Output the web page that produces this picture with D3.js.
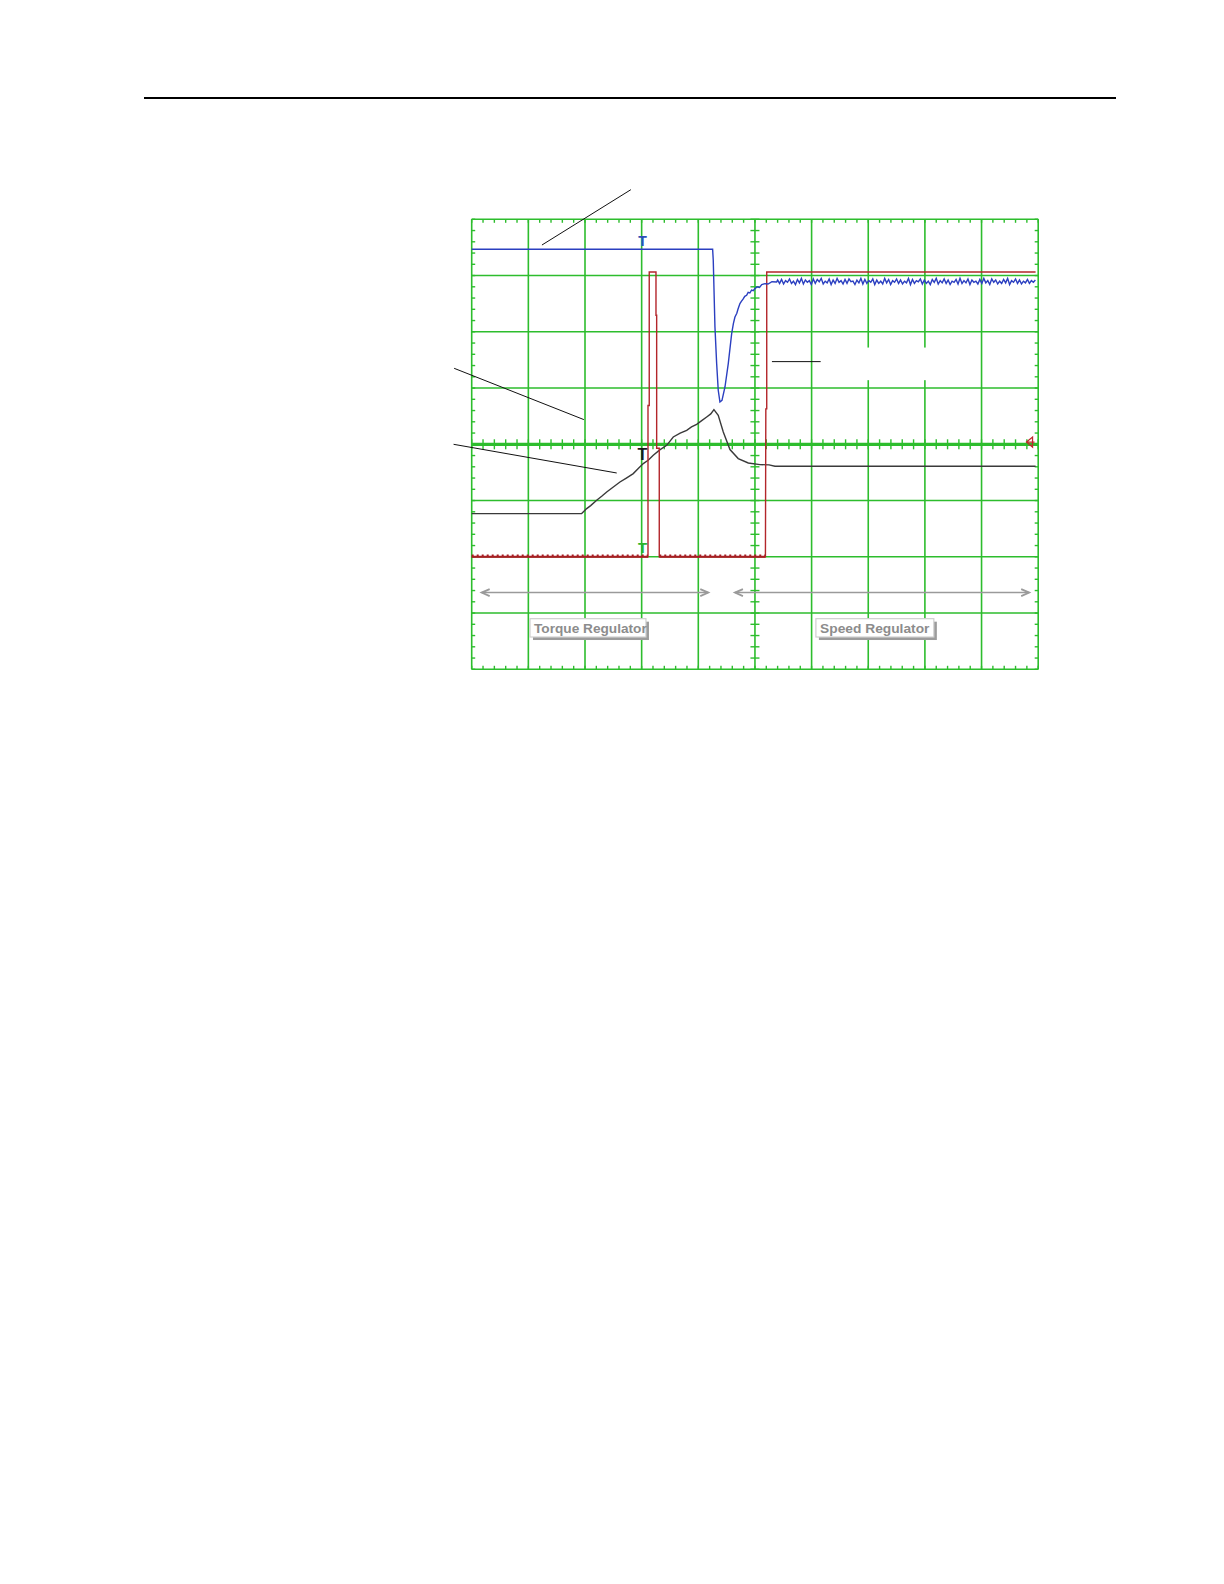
<!DOCTYPE html>
<html>
<head>
<meta charset="utf-8">
<script src="https://cdn.jsdelivr.net/npm/d3@7"></script>
<style>
  html, body { margin: 0; padding: 0; background: #fff; }
  svg { display: block; }
</style>
</head>
<body>
<script>
// ---------- DATA (oscilloscope divisions: time 0..10, amplitude -4..4) ----------
const xDivs = [0, 1, 2, 3, 4, 5, 6, 7, 8, 9, 10];
const yDivs = [-4, -3, -2, -1, 0, 1, 2, 3, 4];

// Blue trace: step level, sharp dip, recovery
const blueTrace = [
  [0.00, 3.467], [4.253, 3.467], [4.264, 3.271], [4.294, 2.085], [4.324, 1.435],
  [4.352, 0.960], [4.382, 0.752], [4.418, 0.782], [4.471, 1.019], [4.529, 1.435],
  [4.589, 1.968], [4.620, 2.150], [4.647, 2.263], [4.680, 2.330], [4.700, 2.400],
  [4.735, 2.501], [4.760, 2.540], [4.790, 2.580], [4.820, 2.630], [4.853, 2.649],
  [4.880, 2.700], [4.910, 2.690], [4.940, 2.740], [4.970, 2.730], [5.000, 2.768],
  [5.040, 2.800], [5.080, 2.790], [5.120, 2.840], [5.176, 2.857], [5.230, 2.850],
  [5.300, 2.890], [5.383, 2.885]
];
// Blue steady-state ripple samples from t=5.40 to t=9.95
const blueRippleStart = 5.40, blueRippleEnd = 9.95;
const blueRipple = [2.92,2.86,2.93,2.85,2.91,2.88,2.94,2.86,2.90,2.84,2.93,2.87,2.95,2.85,2.92,2.88,2.91,2.84,2.94,2.86,
  2.93,2.89,2.95,2.85,2.90,2.87,2.94,2.84,2.92,2.86,2.95,2.88,2.91,2.85,2.93,2.86,2.94,2.89,2.90,2.84,
  2.92,2.87,2.95,2.85,2.93,2.86,2.91,2.88,2.94,2.84,2.92,2.86,2.90,2.85,2.95,2.87,2.93,2.84,2.91,2.88,
  2.94,2.86,2.92,2.85,2.90,2.87,2.95,2.84,2.93,2.86,2.91,2.89,2.94,2.85,2.92,2.86,2.90,2.84,2.93,2.88,
  2.95,2.85,2.91,2.87,2.94,2.86,2.92,2.84,2.90,2.88,2.93,2.85,2.95,2.86,2.91,2.87,2.94,2.84,2.92,2.88,
  2.90,2.85,2.93,2.86,2.95,2.87,2.91,2.84,2.94,2.88,2.92,2.85,2.90,2.86,2.93,2.87,2.95,2.84,2.91,2.88,
  2.94,2.86,2.92,2.85,2.90,2.87,2.93,2.86,2.91,2.88,2.92];

// Red trace: low level, short pulse, then high level
const redTrace = [
  [0.000, -2.0], [3.112, -2.0], [3.112, 0.69], [3.134, 0.69], [3.134, 3.063],
  [3.253, 3.063], [3.253, 2.293], [3.265, 2.293], [3.265, -0.071], [3.311, -0.071],
  [3.311, -2.0], [5.185, -2.0], [5.192, 0.63], [5.208, 0.63], [5.208, 3.063], [9.954, 3.063]
];
const redLowLevel = -2.0;

// Black trace: level, ramp, peak, settle
const blackTrace = [
  [0.000, -1.232], [1.941, -1.232], [2.030, -1.143], [2.100, -1.090], [2.206, -0.996],
  [2.300, -0.920], [2.383, -0.848], [2.500, -0.760], [2.617, -0.670], [2.730, -0.600],
  [2.852, -0.521], [2.940, -0.430], [3.029, -0.343], [3.120, -0.280], [3.205, -0.196],
  [3.320, -0.100], [3.442, -0.018], [3.558, 0.130], [3.680, 0.200], [3.795, 0.249],
  [3.880, 0.310], [3.971, 0.356], [4.060, 0.420], [4.148, 0.486], [4.220, 0.540],
  [4.276, 0.617], [4.352, 0.516], [4.441, 0.219], [4.559, -0.094], [4.705, -0.254],
  [4.882, -0.332], [5.088, -0.361], [5.250, -0.365], [5.353, -0.391], [9.954, -0.391]
];

// Trigger markers
const markers = [
  { label: "T", t: 3.015, v: 3.53, size: 14, color: "#2f4fb5" },
  { label: "T", t: 3.015, v: -0.28, size: 16, color: "#1a1a1a" },
  { label: "T", t: 3.015, v: -1.93, size: 15, color: "#2db52d" }
];

// Region arrows and labels
const regionArrows = [ { from: 0.176, to: 4.176, v: -2.636 }, { from: 4.647, to: 9.841, v: -2.636 } ];
const regionLabels = [
  { text: "Torque Regulator", t0: 1.029, t1: 3.076, textT: 1.10, textEnd: 3.09 },
  { text: "Speed Regulator",  t0: 6.076, t1: 8.158, textT: 6.15, textEnd: 8.08 }
];
const labelBoxTop = -3.10, labelBoxBottom = -3.426, labelBaseline = -3.35;

// Leader lines (annotation pointers), in divisions
const leaders = [
  [[2.81, 4.527], [1.24, 3.543]],
  [[-0.31, 1.351], [1.98, 0.439]],
  [[-0.32, 0.0], [2.56, -0.510]],
  [[5.30, 1.470], [6.16, 1.470]]
];
// Erased area inside the grid (blank label spot)
const blankArea = { t0: 6.45, t1: 8.50, v0: 1.72, v1: 1.14 };

// ---------- LAYOUT ----------
const W = 1224, H = 1584;
const X0 = 471.7, X1 = 1038.2, Y0 = 219.3, Y1 = 669.3;
const x = d3.scaleLinear().domain([0, 10]).range([X0, X1]);
const y = d3.scaleLinear().domain([-4, 4]).range([Y1, Y0]);

const GREEN = "#2dbd2d";

const svg = d3.select("body").append("svg")
  .attr("width", W).attr("height", H)
  .style("font-family", "'Liberation Sans', Arial, sans-serif");
svg.append("rect").attr("width", W).attr("height", H).attr("fill", "#fff");

// Header rule
svg.append("line").attr("x1", 144).attr("x2", 1116).attr("y1", 98).attr("y2", 98)
  .attr("stroke", "#000").attr("stroke-width", 2);

const g = svg.append("g");

// Grid lines
g.selectAll("line.vg").data(xDivs).join("line").attr("class", "vg")
  .attr("x1", d => x(d)).attr("x2", d => x(d)).attr("y1", y(4)).attr("y2", y(-4))
  .attr("stroke", GREEN).attr("stroke-width", 1.6);
g.selectAll("line.hg").data(yDivs).join("line").attr("class", "hg")
  .attr("x1", x(0)).attr("x2", x(10)).attr("y1", d => y(d)).attr("y2", d => y(d))
  .attr("stroke", GREEN).attr("stroke-width", d => d === 0 ? 3.2 : 1.6);

// Minor ticks
const xMinor = d3.range(0, 51).map(k => k / 5);
const yMinor = d3.range(0, 41).map(k => -4 + k / 5);
const tickG = g.append("g").attr("stroke", GREEN).attr("stroke-width", 1.4);
xMinor.forEach(t => {
  tickG.append("line").attr("x1", x(t)).attr("x2", x(t)).attr("y1", y(4)).attr("y2", y(4) + 3.5);
  tickG.append("line").attr("x1", x(t)).attr("x2", x(t)).attr("y1", y(-4) - 3.5).attr("y2", y(-4));
  tickG.append("line").attr("x1", x(t)).attr("x2", x(t)).attr("y1", y(0) - 5).attr("y2", y(0) + 5);
});
yMinor.forEach(v => {
  tickG.append("line").attr("x1", x(0)).attr("x2", x(0) + 3.5).attr("y1", y(v)).attr("y2", y(v));
  tickG.append("line").attr("x1", x(10) - 3.5).attr("x2", x(10)).attr("y1", y(v)).attr("y2", y(v));
  tickG.append("line").attr("x1", x(5) - 4.5).attr("x2", x(5) + 4.5).attr("y1", y(v)).attr("y2", y(v));
});

// Blank (erased) area
g.append("rect")
  .attr("x", x(blankArea.t0)).attr("y", y(blankArea.v0))
  .attr("width", x(blankArea.t1) - x(blankArea.t0)).attr("height", y(blankArea.v1) - y(blankArea.v0))
  .attr("fill", "#fff");

// Leader lines
g.selectAll("line.leader").data(leaders).join("line").attr("class", "leader")
  .attr("x1", d => x(d[0][0])).attr("y1", d => y(d[0][1]))
  .attr("x2", d => x(d[1][0])).attr("y2", d => y(d[1][1]))
  .attr("stroke", "#111").attr("stroke-width", 1);

const line = d3.line().x(d => x(d[0])).y(d => y(d[1]));

// Black trace
g.append("path").datum(blackTrace).attr("d", line)
  .attr("fill", "none").attr("stroke", "#3a3a3a").attr("stroke-width", 1.4);

// Red trace
g.append("path").datum(redTrace).attr("d", line)
  .attr("fill", "none").attr("stroke", "#b3262b").attr("stroke-width", 1.4);
// ripple on low segments
const lowSegs = [];
for (let i = 0; i < redTrace.length - 1; i++) {
  if (redTrace[i][1] === redLowLevel && redTrace[i + 1][1] === redLowLevel) lowSegs.push([redTrace[i][0], redTrace[i + 1][0]]);
}
lowSegs.forEach(s => {
  g.append("line").attr("x1", x(s[0])).attr("x2", x(s[1])).attr("y1", y(redLowLevel)).attr("y2", y(redLowLevel))
    .attr("stroke", "#a81e24").attr("stroke-width", 2);
  g.append("line").attr("x1", x(s[0])).attr("x2", x(s[1])).attr("y1", y(redLowLevel) - 1.5).attr("y2", y(redLowLevel) - 1.5)
    .attr("stroke", "#a81e24").attr("stroke-width", 1.6).attr("stroke-dasharray", "2,3");
});

// Blue trace
const rippleStep = (blueRippleEnd - blueRippleStart) / (blueRipple.length - 1);
const blueFull = blueTrace.concat(blueRipple.map((v, i) => [blueRippleStart + i * rippleStep, v]));
g.append("path").datum(blueFull).attr("d", line)
  .attr("fill", "none").attr("stroke", "#2b3fc0").attr("stroke-width", 1.4);

// Trigger markers
markers.forEach(d => {
  g.append("text").attr("x", x(d.t)).attr("y", y(d.v))
    .attr("text-anchor", "middle").attr("font-size", d.size).attr("font-weight", "bold")
    .attr("fill", d.color).text(d.label);
});

// Red ground marker at right end of center axis
const mx = x(9.90), my = y(0.04);
g.append("path")
  .attr("d", `M${mx - 6},${my} L${mx},${my - 5} L${mx},${my + 5} Z M${mx - 6},${my} L${mx + 2},${my}`)
  .attr("fill", "none").attr("stroke", "#c0282d").attr("stroke-width", 1.3);

// Region arrows
const AR = "#9a9a9a";
regionArrows.forEach(a => {
  const yy = y(a.v), xa = x(a.from), xb = x(a.to);
  g.append("line").attr("x1", xa).attr("x2", xb).attr("y1", yy).attr("y2", yy)
    .attr("stroke", AR).attr("stroke-width", 1.5);
  g.append("path").attr("d", `M${xa + 8},${yy - 3.5} L${xa},${yy} L${xa + 8},${yy + 3.5}`)
    .attr("fill", "none").attr("stroke", AR).attr("stroke-width", 1.8);
  g.append("path").attr("d", `M${xb - 8},${yy - 3.5} L${xb},${yy} L${xb - 8},${yy + 3.5}`)
    .attr("fill", "none").attr("stroke", AR).attr("stroke-width", 1.8);
});

// Region labels
regionLabels.forEach(l => {
  const bx = x(l.t0), bw = x(l.t1) - x(l.t0), by = y(labelBoxTop), bh = y(labelBoxBottom) - y(labelBoxTop);
  g.append("rect").attr("x", bx + 3).attr("y", by + 3).attr("width", bw).attr("height", bh).attr("fill", "#9c9c9c");
  g.append("rect").attr("x", bx).attr("y", by).attr("width", bw).attr("height", bh)
    .attr("fill", "#fff").attr("stroke", "#cfcfcf").attr("stroke-width", 1.2);
  g.append("text").attr("x", x(l.textT)).attr("y", y(labelBaseline))
    .attr("font-size", 13.5).attr("font-weight", "bold").attr("fill", "#8c8c8c")
    .attr("textLength", x(l.textEnd) - x(l.textT)).attr("lengthAdjust", "spacingAndGlyphs")
    .text(l.text);
});
</script>
</body>
</html>
